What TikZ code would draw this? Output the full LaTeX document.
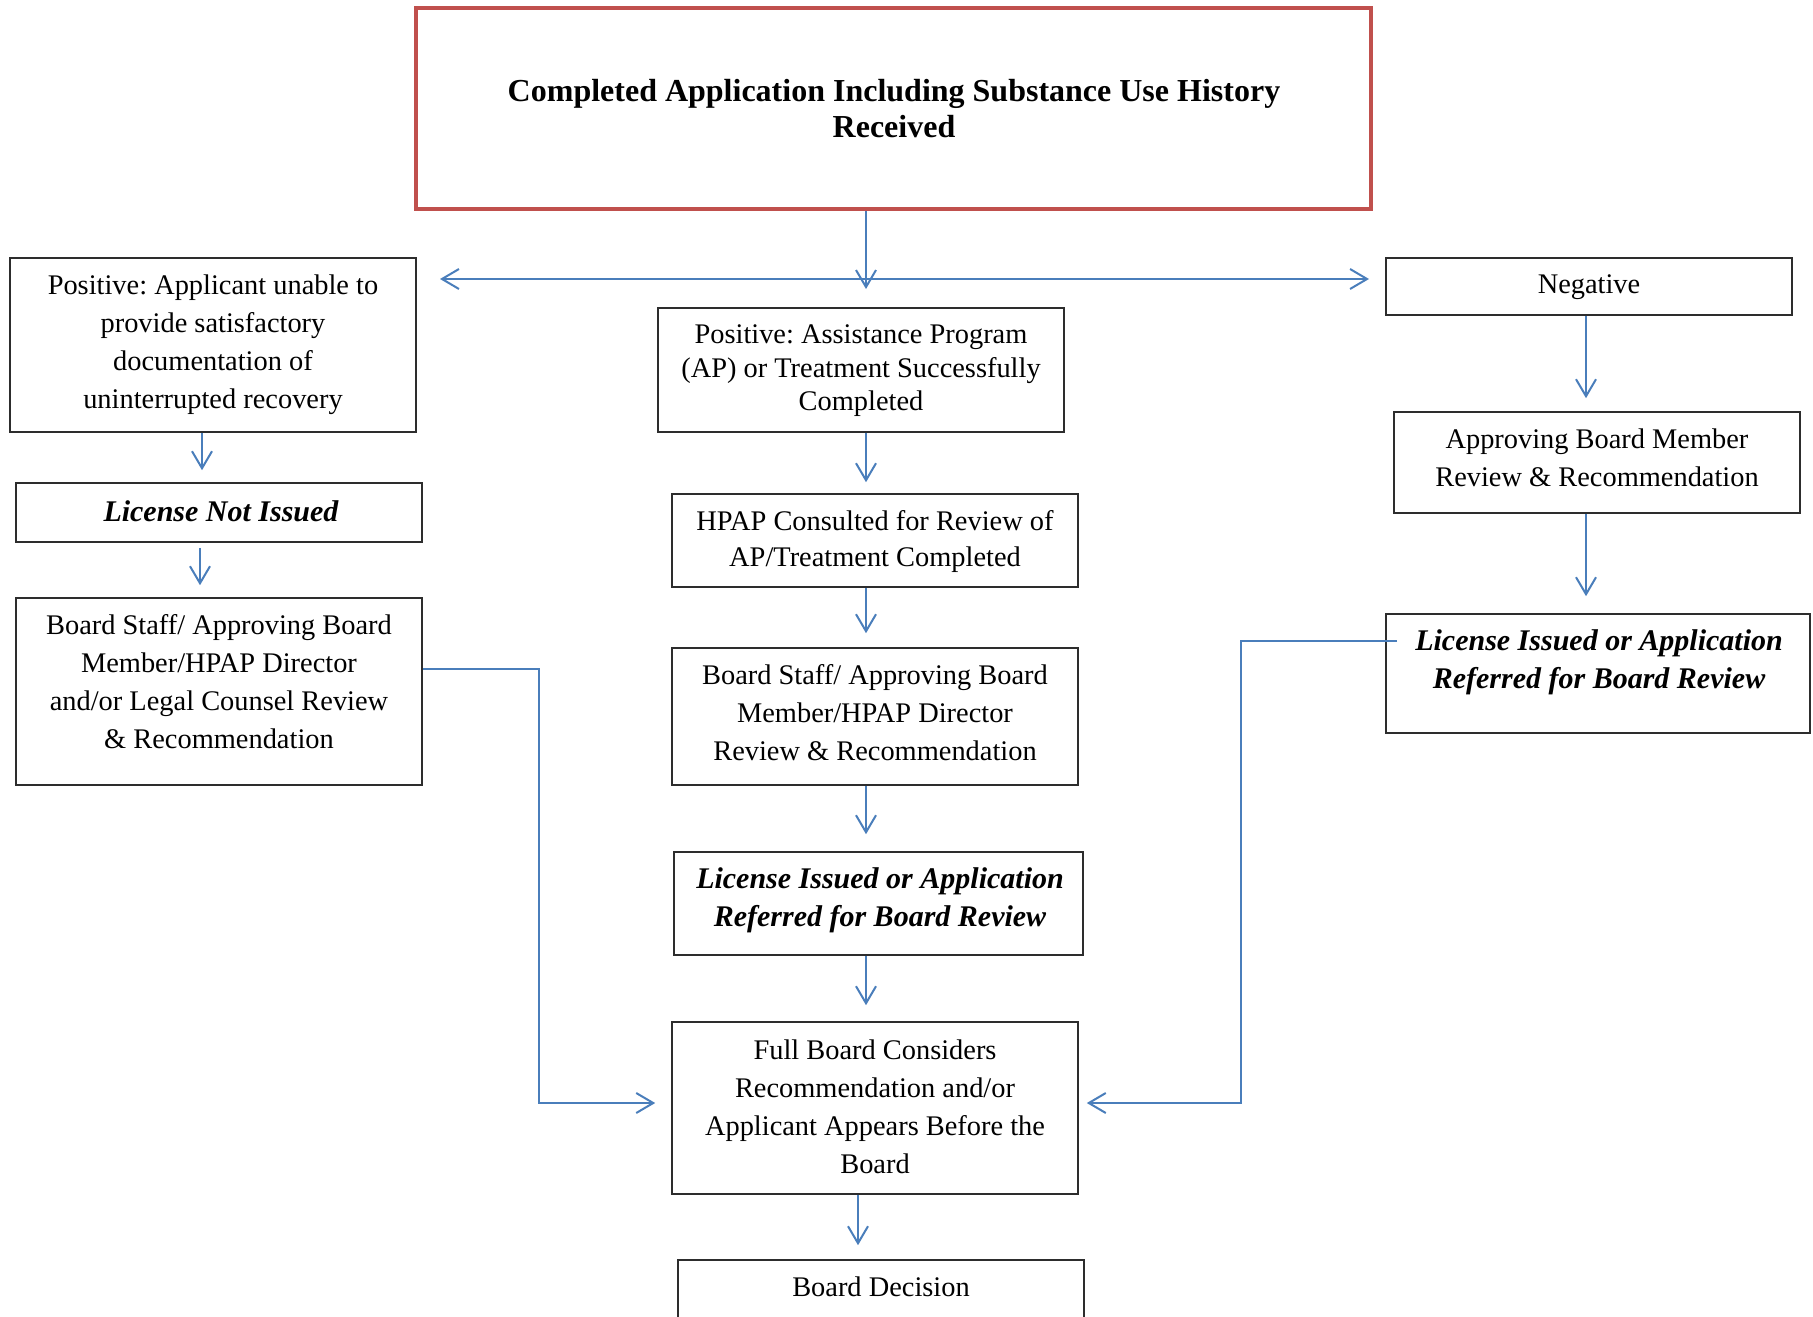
\documentclass[tikz,border=0pt]{standalone}
\usepackage{fontspec}
\setmainfont{Liberation Serif}
\usetikzlibrary{arrows.meta,fit,calc}
\definecolor{framegray}{RGB}{45,45,45}
\definecolor{linkblue}{RGB}{74,126,187}
\definecolor{titlered}{RGB}{192,80,77}
\frenchspacing
\begin{document}
\begin{tikzpicture}[x=0.5pt,y=-0.5pt,
  box/.style={draw=framegray, line width=0.8pt, inner sep=0pt},
  headbox/.style={draw=titlered, line width=2.4pt, inner sep=0pt},
  txt/.style={align=center, inner sep=0pt, font=\fontsize{14.2}{19}\selectfont},
  bitxt/.style={txt, font=\bfseries\itshape\fontsize{15}{19}\selectfont},
  flow/.style={draw=linkblue, line width=1pt, -{Straight Barb[length=8.5pt,width=10pt]}}]
\useasboundingbox (0,0) rectangle (1813,1316);
\clip (0,0) rectangle (1813,1316);

% heading
\node[headbox, fit={(416,8)(1371,209)}] (head) {};
\node[align=center, inner sep=0pt, font=\bfseries\fontsize{16}{18}\selectfont] (headtxt) at (894,109)
  {Completed Application Including Substance Use History\\Received};

% left column
\node[box, fit={(10,258)(416,432)}] (posl) {};
\node[txt] (posltxt) at (213,345) {Positive: Applicant unable to\\provide satisfactory\\documentation of\\uninterrupted recovery};
\node[box, fit={(16,483)(422,542)}] (lni) {};
\node[bitxt] (lnitxt) at (221,511) {License Not Issued};
\node[box, fit={(16,598)(422,785)}] (staffl) {};
\node[txt] (stafftxtl) at (219,682) {Board Staff/ Approving Board\\Member/HPAP Director\\and/or Legal Counsel Review\\\& Recommendation};

% centre column
\node[box, fit={(658,308)(1064,432)}] (posc) {};
\node[txt, font=\fontsize{14.2}{16.7}\selectfont] (posctxt) at (861,371) {Positive: Assistance Program\\(AP) or Treatment Successfully\\Completed};
\node[box, fit={(672,494)(1078,587)}] (hpap) {};
\node[txt, font=\fontsize{14.2}{18}\selectfont] (hpaptxt) at (875,542) {HPAP Consulted for Review of\\AP/Treatment Completed};
\node[box, fit={(672,648)(1078,785)}] (staffc) {};
\node[txt] (stafftxtc) at (875,713) {Board Staff/ Approving Board\\Member/HPAP Director\\Review \& Recommendation};
\node[box, fit={(674,852)(1083,955)}] (licc) {};
\node[bitxt] (licctxt) at (880,900) {License Issued or Application\\Referred for Board Review};
\node[box, fit={(672,1022)(1078,1194)}] (full) {};
\node[txt] (fulltxt) at (875,1107) {Full Board Considers\\Recommendation and/or\\Applicant Appears Before the\\Board};
\node[box, fit={(678,1260)(1084,1340)}] (dec) {};
\node[txt] (dectxt) at (881,1287) {Board Decision};

% right column
\node[box, fit={(1386,258)(1792,315)}] (neg) {};
\node[txt] (negtxt) at (1589,287) {Negative};
\node[box, fit={(1394,412)(1800,513)}] (appr) {};
\node[txt] (apprtxt) at (1597,458) {Approving Board Member\\Review \& Recommendation};
\node[box, fit={(1386,614)(1810,733)}] (licr) {};
\node[bitxt] (licrtxt) at (1599,662) {License Issued or Application\\Referred for Board Review};

% fork below the heading
\coordinate (fork) at (866,289);
\coordinate (hline) at (866,279);
\coordinate (forkl) at (440,279);
\coordinate (forkr) at (1369,279);
\draw[flow] (head.south -| fork) -- (fork);
\draw[flow] (hline) -- (forkl);
\draw[flow] (hline) -- (forkr);

% left column arrows
\draw[flow, shorten >=6pt] ($(posl.south)+(-11,0)$) -- ($(lni.north)+(-17,0)$);
\draw[flow, shorten <=2.5pt, shorten >=6pt] ($(lni.south)+(-19,0)$) -- ($(staffl.north)+(-19,0)$);

% centre column arrows
\draw[flow, shorten >=5.5pt] ($(posc.south)+(5,0)$) -- ($(hpap.north)+(-9,0)$);
\draw[flow, shorten >=7pt] ($(hpap.south)+(-9,0)$) -- ($(staffc.north)+(-9,0)$);
\draw[flow, shorten >=8.5pt] ($(staffc.south)+(-9,0)$) -- ($(licc.north)+(-12.5,0)$);
\draw[flow, shorten >=8pt] ($(licc.south)+(-12.5,0)$) -- ($(full.north)+(-9,0)$);
\draw[flow, shorten >=7pt] ($(full.south)+(-17,0)$) -- ($(dec.north)+(-23,0)$);

% right column arrows
\draw[flow, shorten >=6.5pt] ($(neg.south)+(-3,0)$) -- ($(appr.north)+(-11,0)$);
\draw[flow, shorten >=8.5pt] ($(appr.south)+(-11,0)$) -- ($(licr.north)+(-12,0)$);

% side routes into the full board
\coordinate (bendl) at (539,1103);
\draw[flow] ($(staffl.east)+(0,-22.5)$) -| (bendl) -- ($(full.west)+(-16,-5)$);
\coordinate (bendr) at (1241,1103);
\draw[flow] ($(licr.west)+(12,-32.5)$) -| (bendr) -- ($(full.east)+(8,-5)$);
\end{tikzpicture}
\end{document}
